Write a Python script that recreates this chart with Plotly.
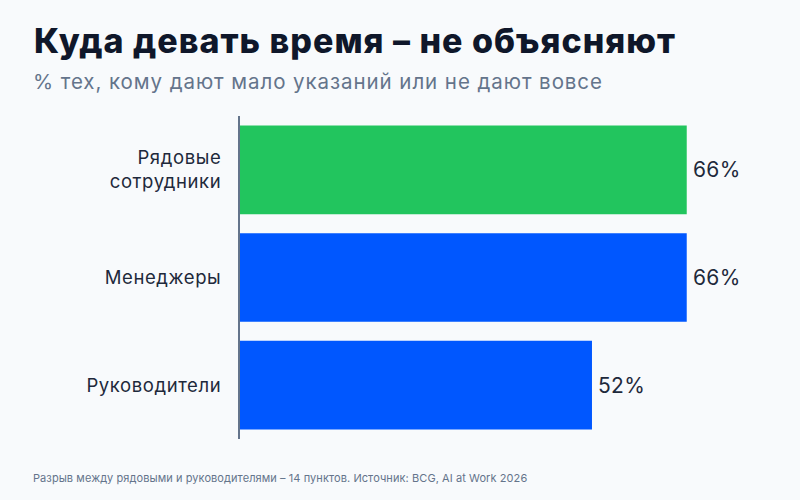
import plotly.graph_objects as go

categories = ["Рядовые<br>сотрудники", "Менеджеры", "Руководители"]
values = [66, 66, 52]
value_labels = ["66%", "66%", "52%"]
bar_colors = ["#22C55E", "#0057FF", "#0057FF"]

title = "Куда девать время – не объясняют"
subtitle = "% тех, кому дают мало указаний или не дают вовсе"
footer = "Разрыв между рядовыми и руководителями – 14 пунктов. Источник: BCG, AI at Work 2026"

FONT = "Inter"
W, H = 800, 500
L, R, T, B = 240, 30, 115.5, 60.5
pw = W - L - R
ph = H - T - B

def px(x):
    return (x - L) / pw

def py(y):
    return (H - B - y) / ph

fig = go.Figure(go.Bar(
    y=categories, x=values, orientation="h",
    marker=dict(color=bar_colors, line=dict(width=0)),
    hoverinfo="skip",
))

annotations = [
    dict(text=title, xref="paper", yref="paper", x=px(32), y=py(40),
         xanchor="left", yanchor="middle", showarrow=False,
         font=dict(family=FONT, size=34, weight=800, color="#0F172A")),
    dict(text=subtitle, xref="paper", yref="paper", x=px(30.5), y=py(81),
         xanchor="left", yanchor="middle", showarrow=False,
         font=dict(family=FONT, size=20.5, color="#64748B")),
    dict(text=footer, xref="paper", yref="paper", x=px(31), y=py(479),
         xanchor="left", yanchor="middle", showarrow=False,
         font=dict(family=FONT, size=11, color="#64748B")),
]
for cat, v, lab in zip(categories, values, value_labels):
    annotations.append(dict(
        x=v, y=cat, xref="x", yref="y", text=lab, showarrow=False,
        xanchor="left", yanchor="middle", xshift=4,
        font=dict(family=FONT, size=21, color="#1E293B"),
    ))

fig.update_layout(
    width=W, height=H,
    margin=dict(l=L, r=R, t=T, b=B, pad=0),
    paper_bgcolor="#F8FAFC", plot_bgcolor="#F8FAFC",
    bargap=0.176,
    showlegend=False,
    font=dict(family=FONT, color="#1E293B"),
    xaxis=dict(range=[0, 78.3], visible=False, fixedrange=True),
    yaxis=dict(
        autorange="reversed", showgrid=False, zeroline=False,
        showline=True, linecolor="#64748B", linewidth=2,
        ticks="", ticklabelstandoff=13,
        tickfont=dict(family=FONT, size=18.5, color="#1E293B"),
    ),
    annotations=annotations,
)

post = """
var gd = document.getElementById('{plot_id}');
function keepLeft(t, ls){
  if (t.dataset.spaced) return;
  var before = t.getBBox().x;
  t.style.letterSpacing = ls;
  var after = t.getBBox().x;
  var x = parseFloat(t.getAttribute('x')) || 0;
  t.setAttribute('x', x + (before - after));
  t.dataset.spaced = '1';
}
function spacing(){
  gd.querySelectorAll('.annotation-text').forEach(function(t){
    var fs = parseFloat(t.style.fontSize);
    if (fs === 34) keepLeft(t, '1.0px');
    else if (fs === 20.5) keepLeft(t, '0.93px');
    else if (fs === 21) keepLeft(t, '0.3px');
    else if (fs === 11) keepLeft(t, '0.08px');
  });
  gd.querySelectorAll('.ytick text').forEach(function(t){ t.style.letterSpacing = '0.6px'; });
}
spacing();
gd.on('plotly_afterplot', spacing);
"""

fig.write_html("out.html", post_script=post)
